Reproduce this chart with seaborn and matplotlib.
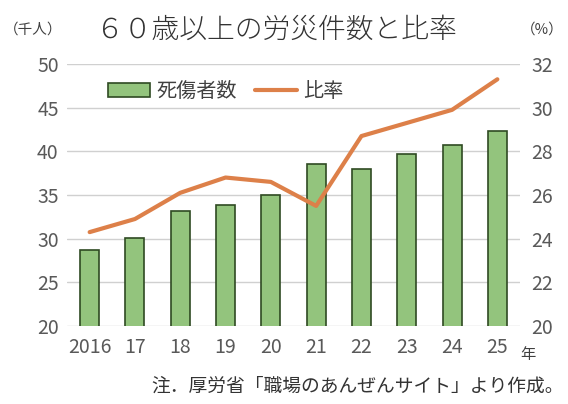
import matplotlib
matplotlib.use("Agg")
import matplotlib.pyplot as plt
import seaborn as sns
import pandas as pd

years = ["2016", "17", "18", "19", "20", "21", "22", "23", "24", "25"]
casualties = [28.7, 30.1, 33.2, 33.8, 35.0, 38.6, 38.0, 39.7, 40.7, 42.3]
ratio = [24.3, 24.9, 26.1, 26.8, 26.6, 25.5, 28.7, 29.3, 29.9, 31.3]

sns.set_theme(style="white")
plt.rcParams['font.family'] = ['Noto Sans CJK JP', 'DejaVu Sans']

df = pd.DataFrame({"year": years, "cas": casualties, "ratio": ratio})

fig = plt.figure(figsize=(5.68, 4.04), dpi=100)
ax = fig.add_axes([67/568, 1-326/404, (520-67)/568, (326-64)/404])
sns.barplot(data=df, x="year", y="cas", ax=ax, color="#93c47d", width=0.42,
            edgecolor="#2f4a22", linewidth=1.2, saturation=1, label="死傷者数")
ax.set_ylim(20, 50)
ax.set_yticks([20, 25, 30, 35, 40, 45, 50])
ax.grid(axis="y", color="#d0d0d0", linewidth=1)
ax.set_axisbelow(True)
for s in ax.spines.values():
    s.set_visible(False)
ax.set_xlabel("")
ax.set_ylabel("")
ax.tick_params(axis="both", colors="#595959", labelsize=14, length=0, pad=6)
ax.tick_params(axis="x", pad=8)
ax.set_xlim(-0.5, 9.5)

ax2 = ax.twinx()
sns.lineplot(x=list(range(len(years))), y=ratio, ax=ax2, color="#dd8049",
             linewidth=3, label="比率", legend=False)
ax2.set_ylim(20, 32)
ax2.set_yticks([20, 22, 24, 26, 28, 30, 32])
for s in ax2.spines.values():
    s.set_visible(False)
ax2.tick_params(axis="y", colors="#595959", labelsize=14, length=0, pad=8)
ax2.set_ylabel("")
ax.set_xlim(-0.5, 9.5)
ax2.set_xlim(-0.5, 9.5)

h1, l1 = ax.get_legend_handles_labels()
h2, l2 = ax2.get_legend_handles_labels()
if ax.get_legend():
    ax.get_legend().remove()
ax2.legend(h1 + h2, l1 + l2, loc="upper left", bbox_to_anchor=(0.05, 1.005),
           ncol=2, frameon=False, fontsize=14.5, handlelength=2.1,
           handletextpad=0.3, columnspacing=0.9, labelcolor="#404040")

fig.text(276/568, 1-30/404, "６０歳以上の労災件数と比率", ha="center", va="center",
         fontsize=20, color="#333333", fontweight="light")
fig.text(4/568, 1-30/404, "（千人）", ha="left", va="center", fontsize=10.5, color="#404040")
fig.text(564/568, 1-30/404, "（%）", ha="right", va="center", fontsize=10.5, color="#404040")
fig.text(528/568, 1-355/404, "年", ha="center", va="center", fontsize=11, color="#404040")
fig.text(564/568, 1-386/404, "注．厚労省「職場のあんぜんサイト」より作成。", ha="right",
         va="center", fontsize=13.5, color="#333333")

fig.savefig("out.png", dpi=100)
